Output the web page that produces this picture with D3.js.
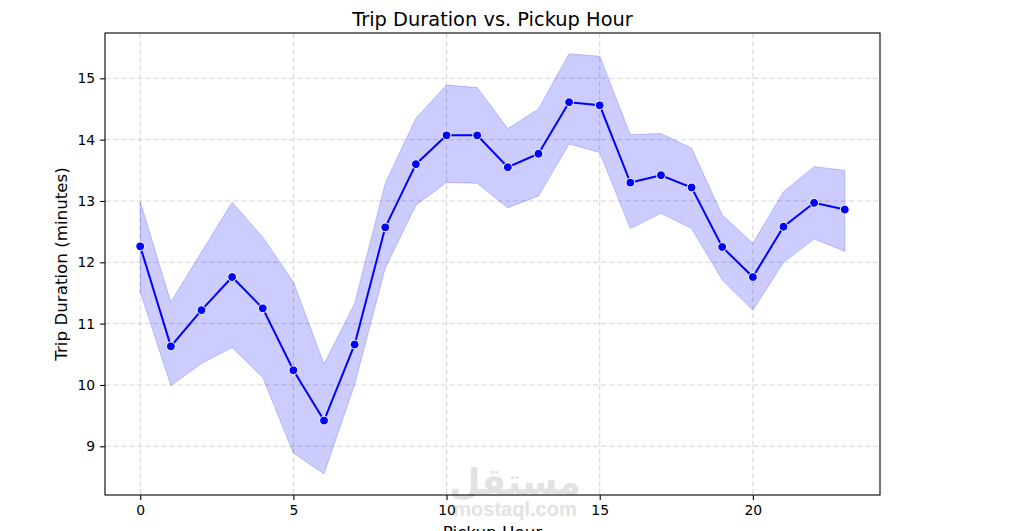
<!DOCTYPE html>
<html>
<head>
<meta charset="utf-8">
<script src="https://cdn.jsdelivr.net/npm/d3@7"></script>
<style>
  body { margin: 0; background: #fff; }
  svg { display: block; font-family: "DejaVu Sans", sans-serif; }
</style>
</head>
<body>
<svg width="1030" height="531"></svg>
<script>
// hours 0..23, mean trip duration and the 95% band around it
var hours = d3.range(24);
var meanDur = [12.26, 10.63, 11.22, 11.76, 11.25, 10.24, 9.42, 10.66, 12.57, 13.60, 14.07, 14.07,
               13.55, 13.77, 14.61, 14.56, 13.30, 13.42, 13.22, 12.25, 11.76, 12.58, 12.97, 12.86];
var upperCI = [12.99, 11.35, 12.17, 12.98, 12.41, 11.68, 10.34, 11.33, 13.29, 14.35, 14.89, 14.85,
               14.18, 14.50, 15.40, 15.36, 14.08, 14.10, 13.86, 12.77, 12.31, 13.15, 13.56, 13.50];
var lowerCI = [11.52, 9.99, 10.35, 10.61, 10.12, 8.89, 8.55, 10.01, 11.91, 12.93, 13.30, 13.29,
               12.89, 13.08, 13.93, 13.79, 12.55, 12.80, 12.55, 11.71, 11.22, 12.00, 12.38, 12.18];
var xTicks = [0, 5, 10, 15, 20];
var yTicks = [9, 10, 11, 12, 13, 14, 15];

var data = hours.map(function(h, i) {
  return { h: h, m: meanDur[i], lo: lowerCI[i], hi: upperCI[i] };
});

var svg = d3.select('svg');
var plotL = 105, plotR = 880, plotT = 33, plotB = 495;

var x = d3.scaleLinear().domain([-1.15, 24.15]).range([plotL, plotR]);
var y = d3.scaleLinear().domain([8.206, 15.739]).range([plotB, plotT]);

// grid
svg.append('g').selectAll('line')
  .data(xTicks).enter().append('line')
  .attr('x1', function(d) { return x(d); }).attr('x2', function(d) { return x(d); })
  .attr('y1', plotT).attr('y2', plotB)
  .attr('stroke', '#d3d3d3').attr('stroke-dasharray', '5,3').attr('stroke-width', 1);
svg.append('g').selectAll('line')
  .data(yTicks).enter().append('line')
  .attr('y1', function(d) { return y(d); }).attr('y2', function(d) { return y(d); })
  .attr('x1', plotL).attr('x2', plotR)
  .attr('stroke', '#d3d3d3').attr('stroke-dasharray', '5,3').attr('stroke-width', 1);

// band
var band = d3.area()
  .x(function(d) { return x(d.h); })
  .y0(function(d) { return y(d.lo); })
  .y1(function(d) { return y(d.hi); });
svg.append('path')
  .datum(data)
  .attr('d', band)
  .attr('fill', 'rgba(0,0,255,0.2)')
  .attr('stroke', 'rgba(0,0,255,0.2)')
  .attr('stroke-width', 1);

// watermark (site stamp on the picture)
svg.append('text')
  .attr('x', 515).attr('y', 494)
  .attr('text-anchor', 'middle')
  .attr('font-weight', 'bold')
  .attr('font-size', 36)
  .attr('fill', '#e2e2e2')
  .text('مستقل');
svg.append('text')
  .attr('x', 515).attr('y', 516)
  .attr('text-anchor', 'middle')
  .attr('font-family', '"Liberation Sans", sans-serif')
  .attr('font-weight', 'bold')
  .attr('font-size', 20)
  .attr('fill', '#e2e2e2')
  .text('mostaql.com');

// mean line + markers
var line = d3.line()
  .x(function(d) { return x(d.h); })
  .y(function(d) { return y(d.m); });
svg.append('path')
  .datum(data)
  .attr('d', line)
  .attr('fill', 'none')
  .attr('stroke', '#0000ff')
  .attr('stroke-width', 2);
svg.append('g').selectAll('circle')
  .data(data).enter().append('circle')
  .attr('cx', function(d) { return x(d.h); })
  .attr('cy', function(d) { return y(d.m); })
  .attr('r', 4.4)
  .attr('fill', '#0000ff')
  .attr('stroke', '#fff')
  .attr('stroke-width', 1);

// frame
svg.append('rect')
  .attr('x', plotL).attr('y', plotT)
  .attr('width', plotR - plotL).attr('height', plotB - plotT)
  .attr('fill', 'none').attr('stroke', '#000').attr('stroke-width', 1.1);

// axes
var xAxis = svg.append('g')
  .attr('transform', 'translate(0,' + plotB + ')')
  .call(d3.axisBottom(x).tickValues(xTicks).tickSize(4.9).tickPadding(5).tickFormat(d3.format('d')));
var yAxis = svg.append('g')
  .attr('transform', 'translate(' + plotL + ',0)')
  .call(d3.axisLeft(y).tickValues(yTicks).tickSize(4.9).tickPadding(5).tickFormat(d3.format('d')));
[xAxis, yAxis].forEach(function(g) {
  g.select('.domain').remove();
  g.selectAll('text').attr('font-family', '"DejaVu Sans", sans-serif').attr('font-size', 13.9).attr('fill', '#000');
  g.selectAll('line').attr('stroke', '#000').attr('stroke-width', 1.1);
});

// labels
svg.append('text')
  .attr('x', (plotL + plotR) / 2).attr('y', 26)
  .attr('text-anchor', 'middle')
  .attr('font-size', 19.4)
  .text('Trip Duration vs. Pickup Hour');
svg.append('text')
  .attr('x', (plotL + plotR) / 2).attr('y', 538)
  .attr('text-anchor', 'middle')
  .attr('font-size', 16.7)
  .text('Pickup Hour');
svg.append('text')
  .attr('transform', 'translate(67,' + ((plotT + plotB) / 2) + ') rotate(-90)')
  .attr('text-anchor', 'middle')
  .attr('font-size', 16.7)
  .text('Trip Duration (minutes)');
</script>
</body>
</html>
